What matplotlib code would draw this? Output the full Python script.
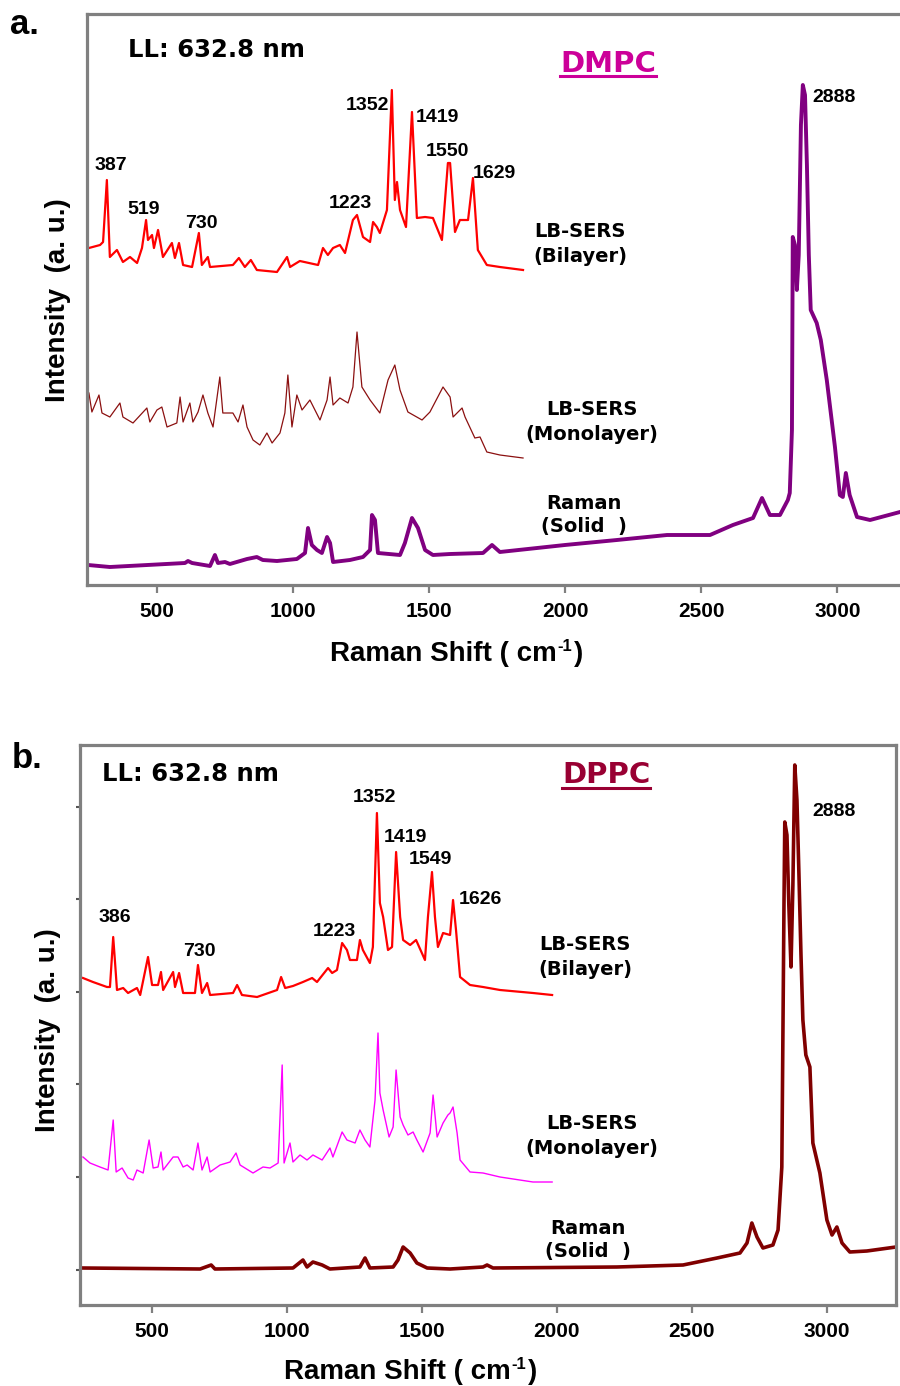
import matplotlib
matplotlib.use("Agg")
import matplotlib.pyplot as plt
from matplotlib.lines import Line2D

W, H = 900, 1386

ticks = [500, 1000, 1500, 2000, 2500, 3000]

# ---- panel a: DMPC  (x = Raman shift cm-1, y = intensity a.u.)
dmpc_bilayer = [(250, 337), (291, 340), (302, 343), (316, 405), (327, 328), (353, 335), (375, 323),
                (401, 328), (427, 322), (445, 337), (460, 365), (467, 345), (482, 350), (489, 337),
                (504, 355), (522, 328), (555, 342), (566, 327), (581, 342), (596, 320), (629, 318),
                (654, 352), (665, 320), (687, 328), (695, 318), (779, 320), (801, 327), (823, 318),
                (845, 325), (867, 315), (941, 313), (978, 328), (989, 318), (1025, 324), (1092, 320),
                (1110, 337), (1128, 330), (1147, 337), (1172, 340), (1191, 332), (1220, 365),
                (1235, 370), (1257, 348), (1283, 343), (1294, 363), (1308, 358), (1319, 352),
                (1345, 375), (1363, 495), (1374, 385), (1382, 403), (1393, 375), (1415, 358),
                (1437, 473), (1455, 367), (1485, 368), (1514, 367), (1547, 345), (1569, 422),
                (1577, 422), (1595, 353), (1613, 365), (1643, 365), (1661, 407), (1679, 335),
                (1712, 320), (1760, 318), (1845, 315)]
dmpc_monolayer = [(250, 192), (261, 173), (287, 190), (298, 172), (327, 168), (364, 182), (375, 168),
                  (412, 162), (463, 177), (474, 163), (500, 175), (518, 178), (537, 158), (573, 162),
                  (585, 188), (596, 163), (621, 182), (632, 163), (651, 173), (669, 190), (687, 172),
                  (706, 158), (731, 208), (742, 172), (779, 172), (798, 163), (816, 180), (831, 158),
                  (853, 145), (878, 140), (904, 152), (923, 142), (952, 152), (970, 172), (981, 210),
                  (996, 158), (1014, 190), (1033, 175), (1062, 185), (1099, 165), (1125, 185),
                  (1136, 208), (1147, 180), (1172, 187), (1202, 182), (1220, 198), (1235, 253),
                  (1253, 198), (1283, 185), (1319, 172), (1349, 205), (1374, 220), (1393, 195),
                  (1422, 173), (1474, 165), (1503, 173), (1551, 198), (1577, 188), (1588, 168),
                  (1621, 177), (1632, 168), (1668, 147), (1687, 148), (1712, 133), (1760, 130),
                  (1845, 127)]
dmpc_raman = [(247, 20), (327, 18), (603, 22), (614, 24), (629, 22), (695, 19), (713, 30), (724, 22),
              (750, 23), (768, 21), (831, 26), (867, 28), (889, 25), (941, 24), (1014, 26), (1044, 32),
              (1055, 57), (1069, 40), (1088, 35), (1106, 32), (1125, 48), (1136, 42), (1147, 23),
              (1209, 25), (1257, 28), (1283, 35), (1290, 70), (1301, 65), (1312, 32), (1393, 30),
              (1411, 42), (1437, 67), (1459, 57), (1485, 35), (1514, 30), (1577, 31), (1698, 32),
              (1731, 40), (1760, 33), (1999, 40), (2190, 45), (2374, 50), (2532, 50), (2616, 60),
              (2690, 67), (2723, 87), (2752, 70), (2789, 70), (2818, 85), (2825, 92), (2833, 155),
              (2836, 348), (2844, 340), (2851, 295), (2858, 330), (2866, 460), (2873, 500),
              (2881, 490), (2888, 420), (2895, 330), (2902, 275), (2924, 262), (2939, 245),
              (2961, 205), (2991, 138), (3009, 90), (3020, 88), (3031, 112), (3045, 90), (3072, 68),
              (3120, 65), (3230, 73)]
dmpc_peaks = [("387", 331, 420), ("519", 452, 375), ("730", 662, 362), ("1223", 1209, 381),
              ("1352", 1272, 479), ("1419", 1529, 467), ("1550", 1569, 433), ("1629", 1738, 411),
              ("2888", 2987, 487)]

# ---- panel b: DPPC
dppc_bilayer = [(244, 327), (281, 323), (333, 318), (344, 318), (356, 368), (363, 342), (370, 315),
                (393, 317), (411, 312), (444, 317), (456, 310), (485, 348), (500, 320), (522, 320),
                (533, 333), (541, 315), (578, 333), (585, 318), (600, 332), (615, 312), (659, 312),
                (670, 340), (685, 312), (704, 322), (715, 310), (800, 312), (815, 320), (833, 310),
                (889, 308), (963, 315), (978, 328), (993, 317), (1022, 319), (1059, 323), (1093, 327),
                (1111, 323), (1152, 337), (1167, 332), (1185, 335), (1204, 362), (1222, 355),
                (1233, 345), (1259, 345), (1270, 365), (1281, 355), (1307, 342), (1318, 358),
                (1333, 492), (1344, 402), (1356, 388), (1374, 355), (1389, 358), (1404, 453),
                (1419, 388), (1430, 365), (1456, 360), (1478, 365), (1511, 345), (1522, 388),
                (1537, 433), (1548, 388), (1559, 358), (1578, 372), (1604, 370), (1615, 405),
                (1626, 375), (1641, 328), (1678, 320), (1726, 318), (1789, 315), (1911, 312),
                (1982, 310)]
dppc_monolayer = [(244, 148), (270, 142), (307, 138), (337, 135), (356, 185), (367, 133), (389, 137),
                  (411, 127), (430, 125), (444, 135), (467, 132), (489, 165), (504, 137), (522, 138),
                  (533, 153), (541, 135), (578, 148), (596, 148), (615, 138), (630, 140), (652, 135),
                  (670, 162), (685, 135), (704, 148), (715, 133), (752, 140), (789, 143), (811, 152),
                  (826, 140), (874, 132), (911, 138), (937, 137), (967, 142), (982, 240), (989, 142),
                  (1011, 162), (1022, 143), (1048, 150), (1074, 145), (1096, 150), (1130, 145),
                  (1159, 157), (1170, 148), (1204, 173), (1222, 165), (1252, 162), (1270, 175),
                  (1289, 165), (1307, 158), (1326, 205), (1337, 272), (1344, 212), (1356, 195),
                  (1378, 168), (1393, 178), (1404, 235), (1419, 188), (1430, 180), (1448, 170),
                  (1467, 173), (1481, 165), (1504, 153), (1530, 172), (1541, 210), (1556, 168),
                  (1578, 182), (1596, 190), (1604, 192), (1615, 198), (1630, 172), (1641, 145),
                  (1678, 133), (1726, 132), (1789, 128), (1911, 123), (1982, 123)]
dppc_raman = [(241, 37), (678, 36), (719, 40), (733, 36), (1022, 37), (1059, 45), (1074, 38),
              (1096, 43), (1130, 40), (1159, 36), (1270, 38), (1289, 47), (1307, 37), (1393, 38),
              (1411, 45), (1430, 58), (1456, 52), (1481, 42), (1519, 37), (1604, 36), (1726, 38),
              (1741, 40), (1763, 37), (2222, 38), (2467, 40), (2593, 47), (2678, 52), (2704, 62),
              (2722, 82), (2741, 68), (2763, 57), (2800, 60), (2819, 75), (2833, 138), (2841, 400),
              (2844, 483), (2852, 470), (2859, 400), (2867, 338), (2874, 420), (2881, 540),
              (2889, 505), (2896, 435), (2904, 350), (2911, 285), (2922, 250), (2937, 238),
              (2948, 162), (2974, 132), (3000, 85), (3019, 70), (3037, 78), (3056, 62), (3085, 53),
              (3148, 54), (3256, 58)]
dppc_peaks = [("386", 363, 388), ("730", 674, 354), ("1223", 1174, 373), ("1352", 1322, 508),
              ("1419", 1437, 468), ("1549", 1533, 445), ("1626", 1715, 406), ("2888", 3026, 494)]
dppc_yticks = [35, 128, 221, 313, 406, 498]

num_font = dict(family="Liberation Sans", weight="bold", size=14)
name_font = dict(family="DejaVu Sans", weight="bold", size=14)
big_font = dict(family="Liberation Sans", weight="bold", size=20)
GREY = "#808080"

fig = plt.figure(figsize=(9, 13.86), dpi=100)


def fx(px):
    return px / W


def fy(py):
    return 1 - py / H


def panel(left, top, right, bottom, xlim, ylim):
    ax = fig.add_axes([fx(left), fy(bottom), (right - left) / W, (bottom - top) / H])
    ax.set_xlim(*xlim)
    ax.set_ylim(*ylim)
    for s in ax.spines.values():
        s.set_color(GREY)
        s.set_linewidth(2.3)
    ax.set_xticks(ticks)
    ax.set_xticklabels([str(t) for t in ticks], fontfamily="Liberation Sans",
                       fontweight="bold", fontsize=15)
    ax.tick_params(axis="x", direction="out", length=6, width=1.6, color=GREY, pad=6)
    return ax


def draw(ax, pts, **kw):
    ax.plot([p[0] for p in pts], [p[1] for p in pts], solid_joinstyle="round", **kw)


def text_right_edge(t):
    fig.canvas.draw()
    return t.get_window_extent(fig.canvas.get_renderer()).x1


def underline(t, py, color):
    fig.canvas.draw()
    bb = t.get_window_extent(fig.canvas.get_renderer())
    fig.add_artist(Line2D([bb.x0 / W, bb.x1 / W], [fy(py), fy(py)],
                          transform=fig.transFigure, color=color, lw=2.2))


def xlabel(px_left, py_base):
    # "Raman Shift ( cm" + raised small "-1" + ")"
    t1 = fig.text(fx(px_left), fy(py_base), "Raman Shift ( cm", ha="left", va="baseline", **big_font)
    x1 = text_right_edge(t1)
    t2 = fig.text((x1 + 1) / W, fy(py_base - 10), "-1", ha="left", va="baseline",
                  family="Liberation Sans", weight="bold", size=12)
    x2 = text_right_edge(t2)
    fig.text((x2 + 1) / W, fy(py_base), ")", ha="left", va="baseline", **big_font)


# ---------------- panel a ----------------
axa = panel(87, 14, 900, 585, (243, 3230), (0, 571))
axa.spines["right"].set_visible(False)
axa.set_yticks([])
draw(axa, dmpc_raman, color="#800080", lw=2.8)
draw(axa, dmpc_monolayer, color="#8b1010", lw=0.9)
draw(axa, dmpc_bilayer, color="#ff0000", lw=1.6)
for lab, x, y in dmpc_peaks:
    axa.text(x, y, lab, ha="center", va="center", **num_font)
axa.text(394, 535, "LL: 632.8 nm", ha="left", va="center", family="DejaVu Sans",
         weight="bold", size=17.5)
ta = axa.text(2157, 513, "DMPC", ha="center", va="baseline", family="DejaVu Sans",
              weight="bold", size=21, color="#cc0099")
axa.text(2054, 341, "LB-SERS\n(Bilayer)", ha="center", va="center", linespacing=1.35, **name_font)
axa.text(2098, 163, "LB-SERS\n(Monolayer)", ha="center", va="center", linespacing=1.4, **name_font)
axa.text(2069, 70, "Raman\n(Solid  )", ha="center", va="center", linespacing=1.25, **name_font)

fig.text(fx(10), fy(25), "a.", ha="left", va="center", family="Liberation Sans",
         weight="bold", size=25)
fig.text(fx(58), fy(300), "Intensity  (a. u.)", rotation=90, ha="center", va="center", **big_font)
xlabel(330, 661)

# ---------------- panel b ----------------
axb = panel(80, 745, 896, 1305, (233, 3256), (0, 560))
axb.set_yticks(dppc_yticks)
axb.set_yticklabels([])
axb.tick_params(axis="y", direction="out", length=3, width=1.5, color="#555555")
draw(axb, dppc_raman, color="#800000", lw=2.6)
draw(axb, dppc_monolayer, color="#ff00ff", lw=1.0)
draw(axb, dppc_bilayer, color="#ff0000", lw=1.6)
for lab, x, y in dppc_peaks:
    axb.text(x, y, lab, ha="center", va="center", **num_font)
axb.text(315, 531, "LL: 632.8 nm", ha="left", va="center", family="DejaVu Sans",
         weight="bold", size=17.5)
tb = axb.text(2182, 522, "DPPC", ha="center", va="baseline", family="DejaVu Sans",
              weight="bold", size=21, color="#990033")
axb.text(2104, 348, "LB-SERS\n(Bilayer)", ha="center", va="center", linespacing=1.35, **name_font)
axb.text(2130, 169, "LB-SERS\n(Monolayer)", ha="center", va="center", linespacing=1.4, **name_font)
axb.text(2115, 65, "Raman\n(Solid  )", ha="center", va="center", linespacing=1.25, **name_font)

fig.text(fx(12), fy(758), "b.", ha="left", va="center", family="Liberation Sans",
         weight="bold", size=25)
fig.text(fx(48), fy(1030), "Intensity  (a. u.)", rotation=90, ha="center", va="center", **big_font)
xlabel(284, 1379)

underline(ta, 76, "#cc0099")
underline(tb, 788, "#990033")

fig.savefig("out.png", dpi=100)
